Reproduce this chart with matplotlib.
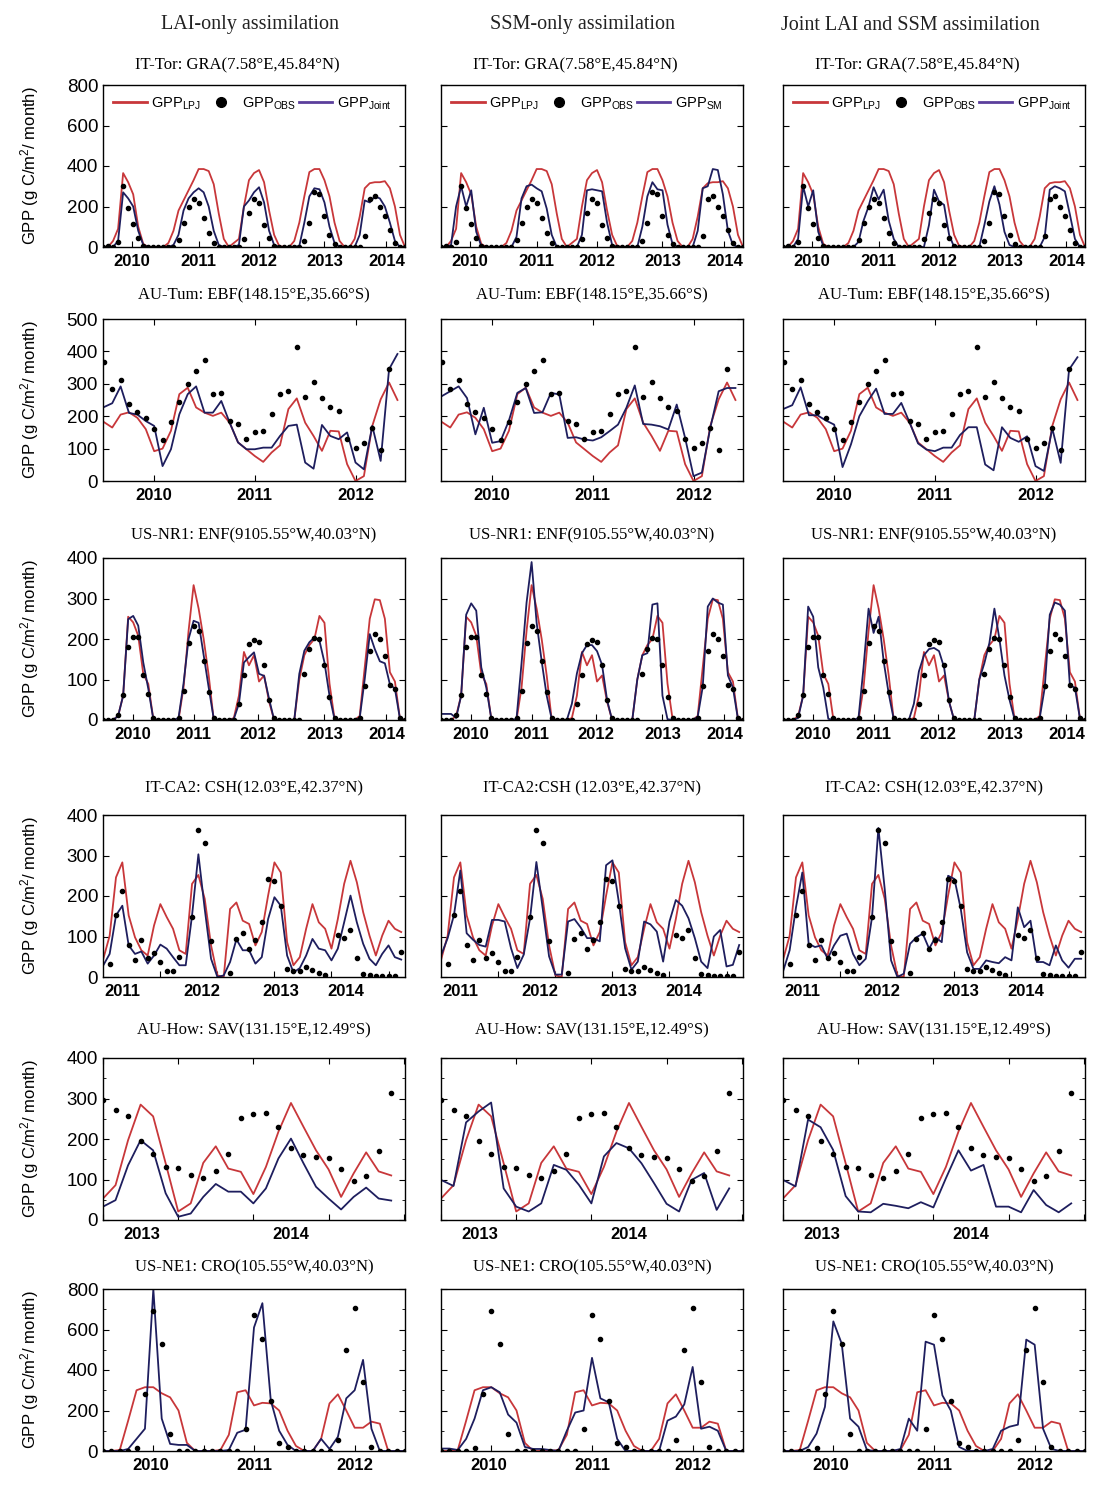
import numpy as np
import matplotlib
matplotlib.use("Agg")
import matplotlib.pyplot as plt
from matplotlib.lines import Line2D

nan = np.nan

# ---------------- data (g C/m2/month, monthly) ----------------
# IT-Tor GRA, 2010-2014
tor_obs = [0, 5, 0, 25, 300, 195, 115, 45, 5, 0, 0, 0,
           0, 0, 0, 35, 120, 200, 235, 215, 145, 70, 20, 0,
           0, 0, 0, 0, 40, 170, 235, 215, 110, 45, 5, 0,
           0, 0, 0, 0, 30, 120, 270, 260, 155, 60, 15, 0,
           0, 0, 0, 0, 55, 235, 250, 200, 155, 85, 20, 0, 0]
tor_lpj = [0, 0, 30, 90, 365, 320, 260, 100, 15, 0, 0, 0,
           0, 20, 80, 180, 230, 280, 330, 385, 385, 375, 310, 165,
           40, 0, 20, 40, 200, 330, 365, 380, 320, 180, 60, 5,
           0, 0, 30, 120, 250, 370, 385, 385, 330, 250, 120, 30,
           0, 0, 40, 150, 290, 315, 320, 320, 325, 290, 200, 60, 0]
tor_lai = [0, 0, 0, 30, 270, 240, 200, 80, 10, 0, 0, 0,
           0, 0, 10, 60, 180, 240, 270, 290, 270, 200, 80, 10,
           0, 0, 0, 10, 200, 230, 270, 295, 220, 80, 10, 0,
           0, 0, 0, 5, 120, 250, 290, 285, 220, 100, 20, 0,
           0, 0, 0, 60, 230, 220, 250, 240, 200, 120, 30, 0, 0]
tor_sm = [0, 0, 10, 200, 300, 200, 280, 75, 5, 0, 0, 0,
          0, 0, 0, 50, 240, 300, 308, 290, 275, 190, 60, 0,
          0, 0, 0, 0, 60, 280, 285, 280, 275, 120, 10, 0,
          0, 0, 0, 0, 100, 250, 320, 285, 280, 110, 15, 0,
          0, 0, 0, 80, 290, 300, 385, 380, 260, 80, 10, 0, 0]
tor_joint = [0, 0, 0, 40, 300, 200, 280, 75, 5, 0, 0, 0,
             0, 0, 0, 25, 130, 200, 295, 235, 283, 130, 40, 0,
             0, 0, 0, 0, 0, 108, 283, 225, 208, 60, 0, 0,
             0, 0, 0, 0, 108, 225, 300, 210, 75, 10, 0, 0,
             0, 0, 0, 0, 50, 283, 300, 290, 275, 160, 40, 0, 0]

# AU-Tum EBF, Jul 2009 - Jun 2012
tum_obs = [368, 283, 311, 239, 214, 194, 160, 126, 182, 245, 298, 340,
           375, 268, 272, 186, 175, 129, 150, 153, 206, 270, 277, 415,
           258, 305, 256, 227, 215, 129, 103, 118, 165, 96, 345, nan]
tum_lpj = [182, 165, 205, 212, 195, 160, 92, 100, 155, 268, 288, 227,
           211, 201, 211, 180, 119, 98, 77, 59, 88, 110, 222, 255,
           180, 139, 93, 155, 153, 52, 0, 15, 170, 252, 304, 250]
tum_lai = [228, 240, 292, 210, 205, 185, 170, 46, 98, 206, 268, 292,
           211, 211, 247, 180, 119, 98, 98, 103, 103, 139, 170, 174,
           57, 38, 173, 139, 129, 150, 57, 36, 170, 62, 345, 392]
tum_sm = [262, 277, 292, 256, 144, 226, 118, 123, 187, 272, 287, 210,
          212, 272, 267, 133, 135, 128, 125, 135, 154, 174, 226, 295,
          176, 174, 169, 159, 236, 133, 15, 26, 164, 277, 287, 287]
tum_joint = [223, 234, 289, 203, 203, 187, 174, 43, 113, 200, 246, 285,
             207, 207, 241, 180, 116, 97, 92, 103, 103, 142, 166, 166,
             51, 33, 166, 133, 121, 138, 46, 31, 162, 56, 344, 382]

# US-NR1 ENF, 2010-2014
nr1_obs = [0, 0, 0, 12, 62, 180, 206, 206, 111, 64, 5, 0,
           0, 0, 0, 5, 72, 189, 233, 220, 146, 70, 5, 0,
           0, 0, 0, 40, 110, 188, 198, 193, 137, 49, 4, 0,
           0, 0, 0, 0, 114, 175, 202, 200, 137, 58, 4, 0,
           0, 0, 0, 5, 85, 171, 212, 200, 159, 86, 77, 4, 0]
nr1_lpj = [0, 0, 0, 10, 60, 255, 241, 208, 114, 89, 2, 0,
           0, 0, 0, 0, 80, 220, 333, 275, 200, 110, 0, 0,
           0, 0, 5, 60, 168, 135, 160, 95, 110, 45, 0, 0,
           0, 0, 0, 100, 160, 185, 200, 257, 240, 90, 3, 0,
           0, 0, 0, 10, 130, 250, 298, 296, 250, 118, 95, 3, 0]
nr1_lai = [0, 0, 0, 10, 60, 249, 257, 233, 142, 77, 2, 0,
           0, 0, 0, 5, 90, 200, 245, 240, 160, 80, 3, 0,
           0, 0, 3, 40, 142, 155, 167, 114, 109, 52, 0, 0,
           0, 0, 0, 114, 171, 192, 204, 196, 142, 60, 2, 0,
           0, 0, 0, 5, 101, 212, 175, 145, 140, 88, 77, 3, 0]
nr1_sm = [15, 15, 15, 5, 60, 260, 288, 270, 130, 80, 3, 0,
          0, 0, 0, 3, 140, 290, 390, 240, 145, 60, 2, 0,
          0, 0, 40, 115, 165, 185, 185, 170, 136, 49, 0, 0,
          0, 0, 0, 100, 160, 165, 285, 288, 60, 2, 0, 0,
          0, 0, 0, 8, 82, 280, 300, 290, 285, 110, 80, 2, 0]
nr1_joint = [0, 0, 0, 5, 60, 280, 255, 130, 80, 3, 0, 0,
             0, 0, 0, 5, 130, 275, 215, 255, 145, 65, 2, 0,
             0, 0, 40, 120, 160, 175, 178, 170, 130, 45, 0, 0,
             0, 0, 0, 100, 140, 190, 275, 200, 110, 50, 2, 0,
             0, 0, 0, 5, 80, 260, 290, 285, 270, 85, 80, 3, 0]

# IT-CA2 CSH
ca2_obs = [nan, 33, 152, 213, 78, 43, 92, 47, 59, 38, 16, 16,
           49, nan, 148, 362, 330, 90, nan, nan, 11, 93, 108, 69,
           92, 135, 243, 236, 175, 20, 14, 14, 25, 17, 9, 6,
           nan, 104, 96, 117, 48, 7, 4, 3, 3, 3, 3, 61]
ca2_lpj = [45, 102, 246, 283, 152, 98, 66, 53, 127, 180, 148, 119,
           66, 57, 230, 252, 193, 78, 4, 0, 168, 184, 139, 131,
           78, 111, 201, 283, 258, 86, 29, 49, 119, 180, 135, 119,
           70, 143, 230, 287, 234, 160, 102, 53, 102, 139, 119, 111]
ca2_lai = [29, 57, 152, 176, 78, 57, 63, 33, 53, 80, 70, 49,
           29, 29, 152, 303, 168, 45, 0, 4, 37, 93, 66, 66,
           33, 49, 143, 197, 176, 53, 11, 22, 53, 94, 70, 66,
           41, 70, 135, 201, 135, 82, 45, 29, 57, 78, 49, 43]
ca2_sm = [55, 96, 153, 263, 108, 92, 79, 75, 141, 141, 137, 71,
          22, 55, 145, 284, 169, 51, 6, 6, 137, 143, 122, 96,
          96, 88, 276, 288, 186, 71, 18, 38, 137, 130, 112, 38,
          137, 190, 176, 145, 96, 38, 22, 100, 116, 26, 30, 79]
ca2_joint = [16, 66, 172, 258, 82, 74, 78, 45, 78, 102, 107, 57,
             29, 45, 148, 368, 217, 41, 0, 8, 82, 98, 107, 70,
             98, 86, 250, 242, 168, 61, 20, 20, 41, 37, 34, 49,
             41, 172, 123, 139, 37, 37, 29, 78, 41, 23, 45, 45]

# AU-How SAV
how_obs = [297, 271, 258, 195, 163, 130, 129, 111, 103, 121, 163, 253,
           261, 265, 230, 179, 160, 156, 154, 125, 97, 109, 170, 314]
how_lpj = [53, 86, 197, 285, 256, 140, 21, 41, 141, 182, 127, 119,
           64, 131, 218, 289, 230, 172, 125, 57, 115, 167, 120, 110]
how_lai = [33, 49, 135, 197, 172, 66, 8, 16, 57, 89, 70, 70,
           41, 78, 152, 201, 140, 82, 53, 26, 57, 80, 53, 48]
how_sm = [99, 84, 241, 268, 290, 78, 33, 21, 41, 136, 124, 87,
          41, 157, 190, 177, 140, 91, 40, 21, 99, 116, 25, 78]
how_joint = [99, 83, 248, 229, 173, 59, 21, 19, 40, 35, 29, 44,
             31, 103, 172, 122, 136, 33, 33, 19, 74, 37, 19, 41]

# US-NE1 CRO, Jul 2009 - Jul 2012
ne1_obs = [0, 0, 0, 0, 13, 280, 693, 528, 82, 0, 0, 0,
           0, 0, 0, 0, 0, 111, 672, 555, 249, 39, 18, 0,
           0, 0, 0, 0, 53, 497, 704, 342, 21, 0, 0, 0, 0]
ne1_lpj = [0, 0, 5, 150, 300, 315, 315, 285, 265, 200, 40, 0,
           0, 0, 5, 80, 290, 300, 225, 238, 235, 200, 100, 25,
           0, 0, 60, 235, 280, 200, 115, 115, 145, 135, 0, 0, 0]
ne1_lai = [0, 0, 0, 10, 60, 110, 800, 160, 35, 30, 30, 0,
           0, 0, 0, 5, 90, 105, 610, 730, 250, 100, 30, 0,
           0, 0, 60, 10, 70, 260, 300, 450, 110, 0, 0, 0, 0]
ne1_sm = [12, 12, 5, 60, 160, 300, 315, 290, 180, 140, 20, 10,
          10, 5, 0, 100, 190, 200, 460, 260, 240, 60, 0, 0,
          0, 0, 0, 150, 170, 230, 415, 110, 120, 100, 0, 0, 0]
ne1_joint = [0, 0, 0, 20, 86, 218, 640, 530, 160, 120, 5, 0,
             0, 0, 10, 160, 100, 540, 525, 275, 200, 20, 0, 0,
             0, 10, 100, 120, 130, 550, 525, 110, 10, 0, 0, 0, 0]

col_titles = ["LAI-only assimilation", "SSM-only assimilation",
              "Joint LAI and SSM assimilation"]

rows = [
    dict(titles=["IT-Tor: GRA(7.58°E,45.84°N)"] * 3,
         obs=tor_obs, lpj=tor_lpj, runs=[tor_lai, tor_sm, tor_joint],
         years=["2010", "2011", "2012", "2013", "2014"],
         ymax=800, ystep=200, yminor=None),
    dict(titles=["AU-Tum: EBF(148.15°E,35.66°S)"] * 3,
         obs=tum_obs, lpj=tum_lpj, runs=[tum_lai, tum_sm, tum_joint],
         years=["2010", "2011", "2012"],
         ymax=500, ystep=100, yminor=None),
    dict(titles=["US-NR1: ENF(9105.55°W,40.03°N)"] * 3,
         obs=nr1_obs, lpj=nr1_lpj, runs=[nr1_lai, nr1_sm, nr1_joint],
         years=["2010", "2011", "2012", "2013", "2014"],
         ymax=400, ystep=100, yminor=None),
    dict(titles=["IT-CA2: CSH(12.03°E,42.37°N)", "IT-CA2:CSH (12.03°E,42.37°N)",
                 "IT-CA2: CSH(12.03°E,42.37°N)"],
         obs=ca2_obs, lpj=ca2_lpj, runs=[ca2_lai, ca2_sm, ca2_joint],
         years=["2011", "2012", "2013", "2014"],
         ymax=400, ystep=100, yminor=None),
    dict(titles=["AU-How: SAV(131.15°E,12.49°S)"] * 3,
         obs=how_obs, lpj=how_lpj, runs=[how_lai, how_sm, how_joint],
         years=["2013", "2014"],
         ymax=400, ystep=100, yminor=50),
    dict(titles=["US-NE1: CRO(105.55°W,40.03°N)"] * 3,
         obs=ne1_obs, lpj=ne1_lpj, runs=[ne1_lai, ne1_sm, ne1_joint],
         years=["2010", "2011", "2012"],
         ymax=800, ystep=200, yminor=100),
]

# layout (pixels of the 1114x1492 figure)
W, H = 1114, 1492
col_left = [103, 441, 783]
ax_w, ax_h = 302, 162
row_top = [85, 319, 558, 815, 1058, 1289]
title_y = [65, 295, 535, 788, 1030, 1267]
title_dx = [-17, 0, 0, 0, 0, 0]
xlims = [(0, 60), (-0.1, 35.9), (0, 60), (-0.05, 47.6), (0, 24.1), (0, 36)]
label_pos = [[5.7, 19, 31, 44, 56.3], [6, 18, 30], [6, 18, 30.7, 44, 56.3],
             [3, 15.5, 28, 38.3], [3.1, 15], [5.7, 18, 30]]
tick_pos = [[5.7, 19, 31, 44, 56.3], [6, 18, 30], [6, 18, 30.7, 44, 56.3],
            [9, 18, 27, 36, 45], [0, 6, 12, 18, 24], [6, 12, 18, 24, 30]]
top_ticks = [False, True, False, False, True, False]

red = "#c8373a"
navy = "#1e1e5e"
purple = "#5b3f9c"
serif = ["Liberation Serif", "DejaVu Serif"]
sans = ["Liberation Sans", "DejaVu Sans"]
narrow = ["Liberation Sans Narrow", "Liberation Sans", "DejaVu Sans"]

plt.rcParams["font.family"] = sans
plt.rcParams["mathtext.fontset"] = "custom"
plt.rcParams["mathtext.rm"] = "Liberation Sans"
plt.rcParams["mathtext.it"] = "Liberation Sans"

fig = plt.figure(figsize=(W / 100, H / 100), dpi=100)

for c, t in enumerate(col_titles):
    cx = [250, 582, 910][c]
    fig.text(cx / W, 1 - 25 / H, t, ha="center", va="center",
             family=serif, fontsize=14.5, color="#222222")

leg_names = ["Joint", "SM", "Joint"]

for r, row in enumerate(rows):
    for c in range(3):
        ax = fig.add_axes([col_left[c] / W, 1 - (row_top[r] + ax_h) / H,
                           ax_w / W, ax_h / H])
        ax.xaxis.remove_overlapping_locs = False
        x = np.arange(len(row["lpj"]))
        ax.plot(x, row["lpj"], color=red, lw=1.3, zorder=2)
        ax.plot(x, row["runs"][c], color=navy, lw=1.3, zorder=2)
        ax.plot(x, row["obs"], "o", color="black", ms=3.0, zorder=3)

        ax.set_xlim(*xlims[r])
        ax.set_ylim(0, row["ymax"])
        ax.set_yticks(np.arange(0, row["ymax"] + 1, row["ystep"]))
        if row["yminor"]:
            ax.set_yticks(np.arange(0, row["ymax"] + 1, row["yminor"]), minor=True)
        ax.set_xticks(tick_pos[r])
        ax.set_xticks(label_pos[r], labels=row["years"], minor=True,
                      fontweight="bold", family=narrow, fontsize=12)
        ax.tick_params(axis="x", which="major", direction="in", length=4,
                       labelbottom=False, top=top_ticks[r])
        ax.tick_params(axis="x", which="minor", length=0, pad=5)
        ax.tick_params(axis="y", which="both", direction="in", right=True,
                       length=4, labelsize=13.5)
        ax.tick_params(axis="y", which="minor", length=2.5)
        for s in ax.spines.values():
            s.set_linewidth(1.0)

        if c == 0:
            ax.set_ylabel("GPP (g C/m$^2$/ month)", fontsize=12)
            ax.yaxis.set_label_coords(-0.205, 0.5)
        else:
            ax.tick_params(axis="y", labelleft=False)

        cx = (col_left[c] + ax_w / 2 + title_dx[r]) / W
        fig.text(cx, 1 - title_y[r] / H, row["titles"][c], ha="center",
                 va="center", family=serif, fontsize=12)

        if r == 0:
            handles = [Line2D([], [], color=red, lw=2),
                       Line2D([], [], ls="none", marker="o", color="black", ms=7),
                       Line2D([], [], color=purple, lw=2)]
            labels = [r"GPP$_{\mathrm{LPJ}}$", r"GPP$_{\mathrm{OBS}}$",
                      r"GPP$_{\mathrm{" + leg_names[c] + "}}$"]
            ax.legend(handles, labels, loc="upper left", bbox_to_anchor=(0.0, 1.0),
                      ncol=3, frameon=False, fontsize=10.5, handlelength=2.3,
                      handletextpad=0.3, columnspacing=0.2, borderaxespad=0.3)

fig.savefig("out.png", dpi=100)
